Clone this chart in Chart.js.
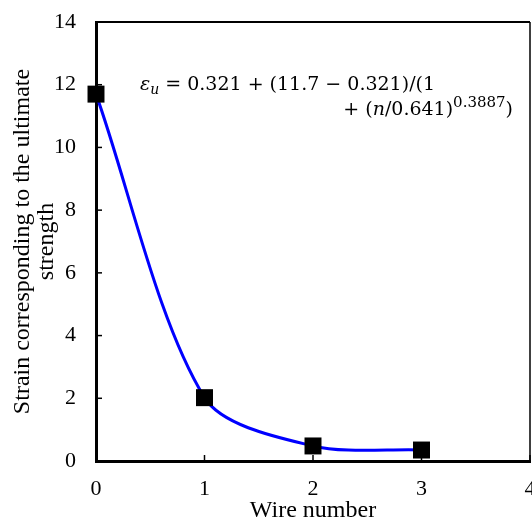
<!DOCTYPE html>
<html>
<head>
<meta charset="utf-8">
<script src="https://cdn.jsdelivr.net/npm/chart.js@4.4.1/dist/chart.umd.min.js"></script>
<style>
  html, body { margin: 0; padding: 0; background: #fff; }
  #wrap { width: 532px; height: 520px; }
</style>
</head>
<body>
<div id="wrap"><canvas id="myChart" width="532" height="520"></canvas></div>
<script>
// measured points
const wireNumber = [0, 1, 2, 3];
const strain = [11.7, 2.02, 0.48, 0.35];

const yTitle = ['Strain corresponding to the ultimate', 'strength'];
const xTitle = 'Wire number';

const serif = '"Liberation Serif", "Times New Roman", serif';
const mathFont = '"DejaVu Serif", serif';

// inside tick marks + top/right frame
const frame = {
  id: 'frame',
  afterDraw(chart) {
    const {ctx, chartArea: a, scales: {x, y}} = chart;
    ctx.save();
    ctx.strokeStyle = '#000';
    ctx.lineWidth = 2;
    ctx.beginPath();
    ctx.moveTo(a.left, a.top);
    ctx.lineTo(a.right, a.top);
    ctx.stroke();
    ctx.lineWidth = 1.5;
    ctx.beginPath();
    ctx.moveTo(a.right, a.top);
    ctx.lineTo(a.right, a.bottom);
    ctx.stroke();
    y.ticks.forEach(t => {
      const py = y.getPixelForValue(t.value);
      ctx.beginPath();
      ctx.moveTo(a.left, py);
      ctx.lineTo(a.left + 6, py);
      ctx.stroke();
    });
    x.ticks.forEach(t => {
      const px = x.getPixelForValue(t.value);
      ctx.beginPath();
      ctx.moveTo(px, a.bottom);
      ctx.lineTo(px, a.bottom - 6);
      ctx.stroke();
    });
    ctx.restore();
  }
};

// fitted equation text
const equation = {
  id: 'equation',
  afterDatasetsDraw(chart) {
    const ctx = chart.ctx;
    const size = 19;
    const up = `${size}px ${mathFont}`;
    const it = `italic ${size}px ${mathFont}`;
    const small = `${Math.round(size * 0.78)}px ${mathFont}`;
    const smallIt = `italic ${Math.round(size * 0.75)}px ${mathFont}`;
    function run(parts, x0, y0, alignRight) {
      let w = 0;
      parts.forEach(p => { ctx.font = p[1]; w += ctx.measureText(p[0]).width; });
      let x = alignRight ? x0 - w : x0;
      parts.forEach(p => {
        ctx.font = p[1];
        ctx.fillText(p[0], x, y0 + (p[2] || 0));
        x += ctx.measureText(p[0]).width;
      });
    }
    ctx.save();
    ctx.fillStyle = '#000';
    ctx.textBaseline = 'alphabetic';
    run([['\u03b5', it], ['u', smallIt, 4], [' = 0.321 + (11.7 \u2212 0.321)/(1', up]], 140, 90, false);
    run([['+ (', up], ['n', it], ['/0.641)', up], ['0.3887', small, -8], [')', up]], 513, 115, true);
    ctx.restore();
  }
};

function noPad(s) {
  s.paddingTop = 0;
  s.paddingBottom = 0;
  s.paddingLeft = 0;
  s.paddingRight = 0;
}

new Chart(document.getElementById('myChart'), {
  type: 'scatter',
  data: {
    datasets: [{
      data: wireNumber.map((n, i) => ({x: n, y: strain[i]})),
      showLine: true,
      tension: 0.3,
      borderColor: '#0000ff',
      borderWidth: 3,
      pointStyle: 'rect',
      pointRadius: 12,
      pointHoverRadius: 12,
      pointBackgroundColor: '#000',
      pointBorderColor: '#000',
      pointBorderWidth: 0,
      clip: false
    }]
  },
  options: {
    responsive: false,
    animation: false,
    events: [],
    layout: {autoPadding: false, padding: {top: 22, right: 2, left: 0, bottom: 0}},
    plugins: {legend: {display: false}, tooltip: {enabled: false}},
    scales: {
      x: {
        type: 'linear',
        min: 0, max: 4,
        ticks: {stepSize: 1, color: '#000', font: {family: serif, size: 22}, padding: 15},
        grid: {display: false, drawTicks: false},
        border: {color: '#000', width: 3},
        title: {display: true, text: xTitle, color: '#000', font: {family: serif, size: 24, lineHeight: 1}, padding: {top: 0, bottom: -3}},
        afterFit(s) { s.height = 59; noPad(s); }
      },
      y: {
        min: 0, max: 14,
        ticks: {stepSize: 2, color: '#000', font: {family: serif, size: 22}, padding: 20},
        grid: {display: false, drawTicks: false},
        border: {color: '#000', width: 3},
        title: {display: true, text: yTitle, color: '#000', font: {family: serif, size: 24, lineHeight: 1}, padding: {top: 11}},
        afterFit(s) { s.width = 96; noPad(s); }
      }
    }
  },
  plugins: [frame, equation]
});
</script>
</body>
</html>
